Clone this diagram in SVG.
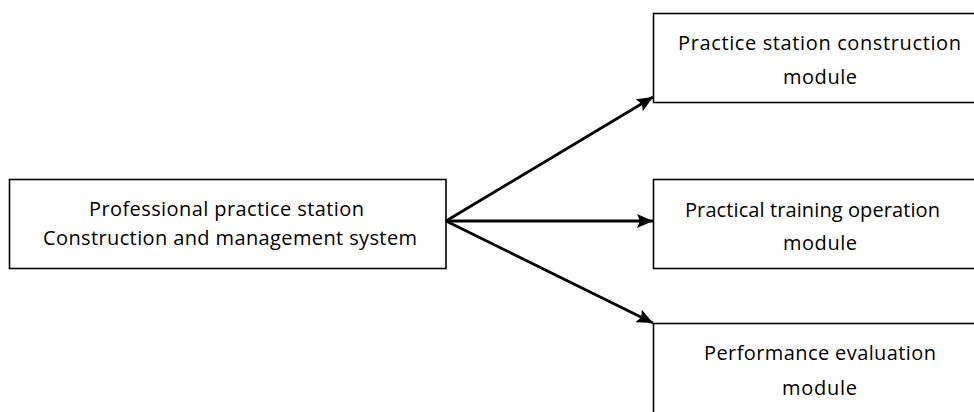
<svg xmlns="http://www.w3.org/2000/svg" width="974" height="412" viewBox="0 0 974 412">
<style>
.box{fill:#fff;stroke:#000;stroke-width:1.6}
.t{font-family:"Open Sans","Noto Sans",sans-serif;font-size:20px;fill:#000}
.c{stroke:#000;stroke-width:2.8;fill:none}
</style>
<defs>
<marker id="ah" markerUnits="userSpaceOnUse" markerWidth="18" markerHeight="14" refX="16" refY="7" orient="auto">
<path d="M0,0 L16,7 L0,14 L3,7 Z" fill="#000"/>
</marker>
</defs>
<rect width="974" height="412" fill="#fff"/>
<g id="node-system">
<rect class="box" x="9.5" y="179.5" width="436.5" height="89"/>
<text class="t" x="89" y="216" textLength="275" lengthAdjust="spacing">Professional practice station</text>
<text class="t" x="43" y="244.5" textLength="374" lengthAdjust="spacing">Construction and management system</text>
</g>
<g id="node-construction">
<rect class="box" x="653.5" y="13.5" width="340" height="89"/>
<text class="t" x="678" y="49.5" textLength="283" lengthAdjust="spacing">Practice station construction</text>
<text class="t" x="783" y="83.5" textLength="74" lengthAdjust="spacing">module</text>
</g>
<g id="node-training">
<rect class="box" x="653.5" y="179.5" width="340" height="89"/>
<text class="t" x="685" y="216.5" textLength="255" lengthAdjust="spacing">Practical training operation</text>
<text class="t" x="783" y="250" textLength="74" lengthAdjust="spacing">module</text>
</g>
<g id="node-evaluation">
<rect class="box" x="653.5" y="323.5" width="340" height="120"/>
<text class="t" x="704" y="360" textLength="232" lengthAdjust="spacing">Performance evaluation</text>
<text class="t" x="782" y="395" textLength="75" lengthAdjust="spacing">module</text>
</g>
<g id="connectors">
<line class="c" x1="446" y1="221" x2="653" y2="97" marker-end="url(#ah)"/>
<line class="c" x1="446" y1="221" x2="653" y2="221" marker-end="url(#ah)"/>
<line class="c" x1="446" y1="221" x2="653" y2="323" marker-end="url(#ah)"/>
</g>
</svg>
